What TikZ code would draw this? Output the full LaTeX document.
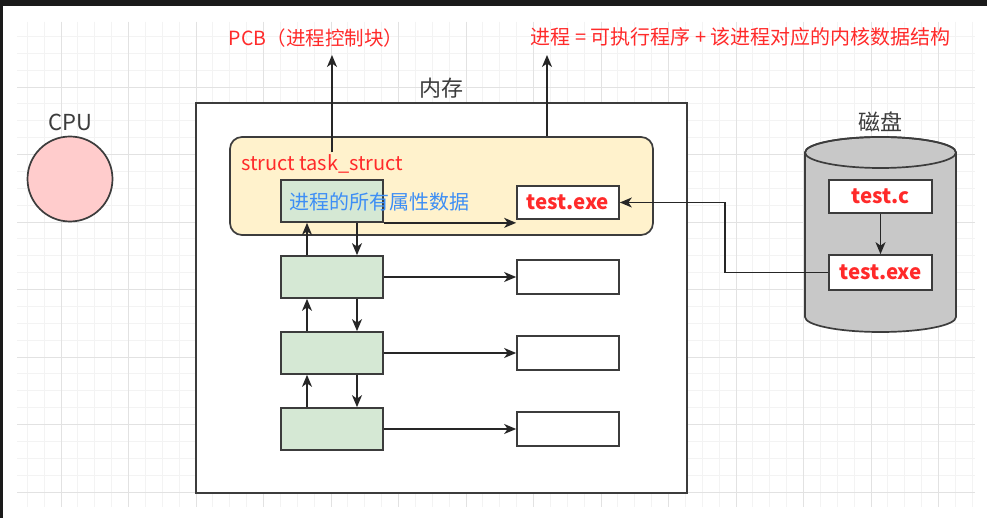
\documentclass[tikz,border=0pt]{standalone}
\usepackage{fontspec}
\setmainfont{Noto Sans CJK SC}
\usetikzlibrary{arrows.meta}
\definecolor{fr}{HTML}{1A1A1A}
\definecolor{gmin}{HTML}{F3F3F3}
\definecolor{gmaj}{HTML}{E2E2E2}
\definecolor{txtred}{HTML}{FF2A2A}
\definecolor{txtblue}{HTML}{3D8EF5}
\definecolor{strk}{HTML}{3C3C3C}
\definecolor{yel}{HTML}{FFF2CC}
\definecolor{grn}{HTML}{D5E8D4}
\definecolor{pnk}{HTML}{FFCCCC}
\definecolor{dsk}{HTML}{C8C8C8}
\begin{document}
\begin{tikzpicture}[x=1pt,y=-1pt,
  bx/.style={draw=strk,line width=1.7pt,inner sep=0pt,rectangle},
  gbox/.style={bx,fill=grn,minimum width=102pt,minimum height=42pt},
  wbox/.style={bx,fill=white,minimum width=102pt,minimum height=34pt},
  arr/.style={draw=black!85,line width=1.6pt,-{Stealth[length=12pt,width=10pt,inset=3.5pt]}},
  redtxt/.style={text=txtred,font=\fontsize{19.5}{22}\selectfont},
  exetxt/.style={text=txtred,font=\fontsize{20.5}{23}\selectfont\bfseries},
  darktxt/.style={text=strk,font=\fontsize{22}{25}\selectfont},
  minline/.style={draw=gmin,line width=0.8pt},
  majline/.style={draw=gmaj,line width=0.9pt}
]
\useasboundingbox (0,0) rectangle (987,518);
\fill[white] (0,0) rectangle (987,518);
% grid
\foreach \k in {-2,...,54} \draw[minline] ({61+16.875*\k},22) -- ({61+16.875*\k},507);
\foreach \k in {-3,...,24} \draw[minline] (17,{87+16.875*\k}) -- (975,{87+16.875*\k});
\foreach \k in {0,...,13} \draw[majline] ({61+67.5*\k},22) -- ({61+67.5*\k},507);
\foreach \k in {0,...,6} \draw[majline] (17,{87+67.5*\k}) -- (975,{87+67.5*\k});
% frame
\fill[fr] (0,0) rectangle (987,6);
\fill[fr] (0,0) rectangle (3,518);

% top labels
\node[redtxt] (pcb) at (316,38) {PCB（进程控制块）};
\node[redtxt,anchor=west,font=\fontsize{20}{22}\selectfont] (eq) at (527,37) {进程 = 可执行程序 + 该进程对应的内核数据结构};
\coordinate (pcbtip) at (332,55);
\coordinate (eqtip) at (547,55);

% CPU
\node[darktxt] (cpulbl) at (70,122) {CPU};
\node[circle,draw=strk,line width=1.7pt,fill=pnk,minimum size=85pt,inner sep=0pt] (cpu) at (70,179) {};

% memory
\node[darktxt] (memlbl) at (441,88) {内存};
\node[bx,fill=white,minimum width=491pt,minimum height=390pt] (mem) at (441.5,298) {};
\node[bx,fill=yel,rounded corners=12pt,minimum width=423pt,minimum height=98pt] (ts) at (441.5,186) {};
\node[redtxt,anchor=west,inner sep=2pt,font=\fontsize{20}{22}\selectfont] (tslbl) at (239,164) {struct task\_struct};

\node[gbox] (g1) at (332,201) {};
\node[text=txtblue,font=\fontsize{20}{22}\selectfont,anchor=west] (attr) at (286,202) {进程的所有属性数据};
\node[wbox,minimum height=33pt,exetxt] (t1) at (568,202.5) {test.exe};

\node[gbox] (g2) at (332,277) {};
\node[gbox] (g3) at (332,353) {};
\node[gbox] (g4) at (332,429) {};
\node[wbox] (w2) at (568,277) {};
\node[wbox] (w3) at (568,353) {};
\node[wbox] (w4) at (568,429) {};

\draw[arr] (tslbl.north -| pcbtip) -- (pcbtip);
\draw[arr] (ts.north -| eqtip) -- (eqtip);

\draw[arr] (g1.south east) -- (g1.south east -| t1.west);
\foreach \a/\b in {g1/g2,g2/g3,g3/g4}{
  \draw[arr] ([xshift=-25pt]\b.north) -- ([xshift=-25pt]\a.south);
  \draw[arr] ([xshift=25pt]\a.south) -- ([xshift=25pt]\b.north);
}
\draw[arr] (g2.east) -- (w2.west);
\draw[arr] (g3.east) -- (w3.west);
\draw[arr] (g4.east) -- (w4.west);

% disk
\node[darktxt] (dsklbl) at (880,122) {磁盘};
\filldraw[fill=dsk,draw=strk,line width=1.7pt] (805,152.5) -- (805,317)
  arc[start angle=180,end angle=360,x radius=75.5pt,y radius=15pt]
  -- (956,152.5)
  arc[start angle=0,end angle=180,x radius=75.5pt,y radius=15.5pt] -- cycle;
\draw[draw=strk,line width=1.7pt] (880.5,152.5) ellipse[x radius=75.5pt,y radius=15.5pt];
\node[wbox,minimum width=103pt,minimum height=33pt,exetxt] (d1) at (880.5,196.5) {test.c};
\node[wbox,minimum width=103pt,minimum height=35pt,exetxt] (d2) at (880.5,272.5) {test.exe};
\draw[arr] (d1) -- (d2);
\coordinate (bend) at (725,272.5);
\draw[arr] (d2.west) -- (bend) |- (t1.east);
\end{tikzpicture}
\end{document}
